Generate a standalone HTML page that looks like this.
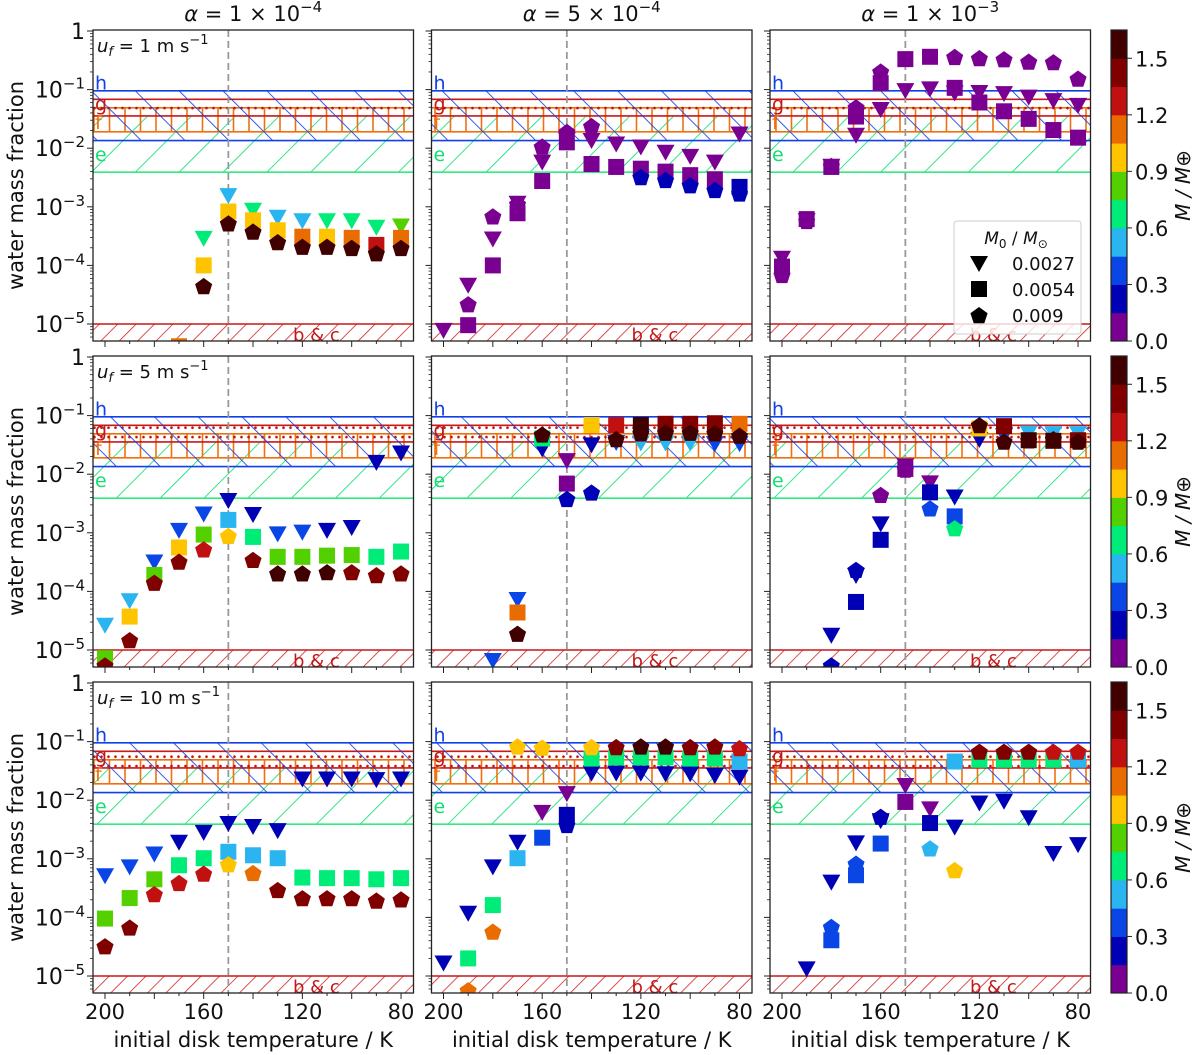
<!DOCTYPE html>
<html><head><meta charset="utf-8">
<style>
html,body{margin:0;padding:0;background:#fff;}
svg{display:block;font-family:"DejaVu Sans","Liberation Sans",sans-serif;}
</style></head>
<body>
<svg id="fig" width="1200" height="1055" viewBox="0 0 1200 1055" xmlns="http://www.w3.org/2000/svg">
<defs>
 <pattern id="hatchBlue" width="31" height="31" patternUnits="userSpaceOnUse" patternTransform="rotate(-45)"><line x1="0" y1="0" x2="0" y2="31" stroke="#1040e8" stroke-width="1.7"/></pattern>
 <pattern id="hatchGreen" width="31" height="31" patternUnits="userSpaceOnUse" patternTransform="rotate(45)"><line x1="0" y1="0" x2="0" y2="31" stroke="#10e070" stroke-width="1.7"/></pattern>
 <pattern id="hatchRed" width="13" height="13" patternUnits="userSpaceOnUse" patternTransform="rotate(45)"><line x1="0" y1="0" x2="0" y2="13" stroke="#d01818" stroke-width="1.5"/></pattern>
 <pattern id="hatchOrange" width="15.5" height="100" patternUnits="userSpaceOnUse"><line x1="1" y1="0" x2="1" y2="100" stroke="#f07010" stroke-width="1.6"/></pattern>
 <pattern id="dotsRed" width="7" height="9.4" patternUnits="userSpaceOnUse"><circle cx="3.5" cy="4.7" r="1.3" fill="#c01010"/></pattern>
</defs>
<g id="root"></g>
</svg>
<script>
// ---- data ----
const temps = [200,190,180,170,160,150,140,130,120,110,100,90,80];
const colTitles = ["1","5","1"]; const colExps = ["−4","−4","−3"];
const rowSpeeds = ["1","5","10"];
const yTickExps = [0,-1,-2,-3,-4,-5];
const xTickLabels = [200,160,120,80];
const cbTicks = [0.0,0.3,0.6,0.9,1.2,1.5];
const cbColors = ["#7a0092","#0000b4","#0a46e6","#2ab4f0","#00ec78","#52d000","#ffc400","#e86c00","#c01010","#800000","#400000"];
const legendVals = ["0.0027","0.0054","0.009"];
const n = null;
const tri00=[n,n,n,-5.45,-3.53,-2.80,-3.05,-3.17,-3.23,-3.23,-3.23,-3.34,-3.32];
const triM00=[n,n,n,.65,.65,.5,.65,.5,.5,.65,.65,.65,.8];
const sq00=[n,n,n,-5.38,-4.0,-3.08,-3.23,-3.40,-3.51,-3.51,-3.53,-3.65,-3.53];
const sqM00=[n,n,n,1.1,1.0,1.0,1.0,1.0,1.1,1.0,1.1,1.3,1.1];
const pent00=[n,n,n,n,-4.35,-3.28,-3.42,-3.6,-3.68,-3.68,-3.70,-3.79,-3.70];
const pentM00=[n,n,n,n,1.6,1.6,1.6,1.6,1.6,1.6,1.6,1.6,1.6];

const tri01=[-5.10,-4.33,-3.54,-2.93,-2.23,-1.85,-1.86,-1.92,-1.97,-2.06,-2.13,-2.23,-1.75];
const triM01=[.05,.05,.05,.05,.05,.05,.05,.05,.05,.05,.05,.05,.05];
const sq01=[n,-5.02,-4.00,-3.11,-2.56,-1.90,-2.27,-2.32,-2.35,-2.40,-2.46,-2.53,-2.66];
const sqM01=[n,.05,.05,.05,.05,.05,.05,.05,.05,.05,.05,.05,.2];
const pent01=[n,-4.66,-3.16,-2.95,-1.97,-1.72,-1.62,n,-2.49,-2.54,-2.63,-2.71,-2.77];
const pentM01=[n,.05,.05,.05,.05,.05,.05,n,.2,.2,.2,.2,.2];

const tri02=[-3.87,-3.23,-2.30,-1.77,-1.33,-1.01,-0.98,-1.05,-1.04,-1.06,-1.12,-1.18,-1.26];
const triM02=[.05,.05,.05,.05,.05,.05,.05,.05,.05,.05,.05,.05,.05];
const sq02=[-4.02,-3.21,-2.32,-1.46,-0.89,-0.48,-0.44,-0.97,-1.22,-1.37,-1.50,-1.69,-1.82];
const sqM02=[.05,.05,.05,.05,.05,.05,.05,.05,.05,.05,.05,.05,.05];
const pent02=[-4.16,-3.24,-2.30,-1.30,-0.69,n,n,-0.44,-0.46,-0.48,-0.52,-0.53,-0.81];
const pentM02=[.05,.05,.05,.05,.05,n,n,.05,.05,.05,.05,.05,.05];

const tri10=[-4.57,-4.15,-3.49,-2.95,-2.67,-2.44,-2.68,-3.01,-2.98,-2.95,-2.90,-1.79,-1.63];
const triM10=[.5,.5,.4,.4,.4,.2,.2,.4,.4,.2,.2,.2,.2];
const sq10=[-5.14,-4.43,-3.72,-3.25,-3.03,-2.78,-3.07,-3.41,-3.41,-3.39,-3.38,-3.41,-3.32];
const sqM10=[.8,1.0,.8,1.0,.8,.5,.65,.8,.8,.8,.8,.65,.65];
const pent10=[-5.26,-4.83,-3.85,-3.49,-3.28,-3.05,-3.46,-3.69,-3.69,-3.67,-3.67,-3.72,-3.69];
const pentM10=[1.4,1.4,1.4,1.4,1.3,1.0,1.4,1.6,1.6,1.6,1.4,1.4,1.4];

const tri11=[n,n,-5.17,-4.13,-1.56,-1.76,-1.49,-1.45,-1.46,-1.46,-1.46,-1.47,-1.47];
const triM11=[n,n,.4,.4,.2,.05,.2,.4,.5,.5,.5,.4,.4];
const sq11=[n,n,n,-4.36,-1.39,-2.16,-1.16,-1.16,-1.16,-1.14,-1.14,-1.13,-1.14];
const sqM11=[n,n,n,1.1,.65,.05,1.0,1.3,1.6,1.4,1.4,1.4,1.1];
const pent11=[n,n,n,-4.72,-1.32,-2.42,-2.31,-1.40,-1.30,-1.29,-1.29,-1.30,-1.34];
const pentM11=[n,n,n,1.6,1.6,.2,.2,1.6,1.6,1.6,1.6,1.6,1.6];

const tri12=[n,n,-4.74,-3.72,-2.84,-1.85,-2.14,-2.38,-1.40,-1.33,-1.29,-1.30,-1.30];
const triM12=[n,n,.2,.2,.2,.05,.05,.2,.2,.4,.5,.5,.5];
const sq12=[n,n,n,-4.18,-3.12,-1.91,-2.31,-2.72,-1.22,-1.18,-1.42,-1.43,-1.42];
const sqM12=[n,n,n,.2,.2,.05,.2,.4,1.0,1.4,1.6,1.6,1.4];
const pent12=[n,n,-5.26,-3.63,-2.35,-1.92,-2.58,-2.92,-1.16,-1.44,-1.42,-1.40,-1.44];
const pentM12=[n,n,.2,.2,.05,.05,.4,.65,1.6,1.6,1.6,1.6,1.6];

const tri20=[-3.28,-3.13,-2.91,-2.71,-2.54,-2.39,-2.44,-2.51,-1.63,-1.63,-1.63,-1.64,-1.63];
const triM20=[.4,.4,.4,.2,.2,.2,.2,.2,.2,.2,.2,.2,.2];
const sq20=[-4.02,-3.67,-3.35,-3.11,-2.99,-2.88,-2.94,-2.99,-3.32,-3.33,-3.33,-3.35,-3.33];
const sqM20=[.8,.8,.8,.65,.65,.5,.5,.5,.65,.65,.65,.65,.65];
const pent20=[-4.49,-4.17,-3.60,-3.41,-3.25,-3.09,-3.24,-3.53,-3.67,-3.67,-3.67,-3.71,-3.69];
const pentM20=[1.4,1.4,1.3,1.3,1.3,1.0,1.1,1.4,1.4,1.4,1.4,1.4,1.4];

const tri21=[-4.77,-3.92,-3.13,-2.71,-2.20,-1.88,-1.53,-1.53,-1.53,-1.54,-1.54,-1.57,-1.60];
const triM21=[.2,.2,.2,.2,.05,.05,.2,.2,.2,.2,.2,.2,.2];
const sq21=[n,-4.70,-3.79,-2.99,-2.64,-2.25,-1.29,-1.27,-1.27,-1.27,-1.29,-1.29,-1.34];
const sqM21=[n,.65,.65,.5,.4,.2,.65,.65,.65,.65,.65,.65,.5];
const pent21=[n,-5.24,-4.24,-1.08,-1.10,-2.42,-1.09,-1.09,-1.08,-1.08,-1.09,-1.08,-1.11];
const pentM21=[n,1.1,1.1,1.0,1.0,.2,1.0,1.4,1.6,1.6,1.4,1.4,1.3];

const tri22=[n,-4.87,-3.39,-2.72,-2.34,-1.74,-2.14,-2.45,-2.04,-2.01,-2.29,-2.90,-2.75];
const triM22=[n,.2,.2,.2,.2,.05,.05,.2,.2,.2,.2,.2,.2];
const sq22=[n,n,-4.39,-3.28,-2.74,-2.03,-2.39,-1.34,-1.31,-1.31,-1.31,-1.31,-1.31];
const sqM22=[n,n,.4,.4,.4,.05,.2,.5,.65,.65,.65,.65,.5];
const pent22=[n,n,-4.16,-3.08,-2.28,n,-2.82,-3.19,-1.17,-1.17,-1.17,-1.17,-1.17];
const pentM22=[n,n,.4,.4,.2,n,.5,1.0,1.4,1.4,1.4,1.3,1.3];

const bandH=[-1.87,-1.02], bandG=[-1.45,-1.166], bandF=[-1.72,-1.31], bandE=[-2.41,-1.45], bandBC=[-6,-5];

const panels=[
 [[tri00,triM00,sq00,sqM00,pent00,pentM00],[tri01,triM01,sq01,sqM01,pent01,pentM01],[tri02,triM02,sq02,sqM02,pent02,pentM02]],
 [[tri10,triM10,sq10,sqM10,pent10,pentM10],[tri11,triM11,sq11,sqM11,pent11,pentM11],[tri12,triM12,sq12,sqM12,pent12,pentM12]],
 [[tri20,triM20,sq20,sqM20,pent20,pentM20],[tri21,triM21,sq21,sqM21,pent21,pentM21],[tri22,triM22,sq22,sqM22,pent22,pentM22]]];

const NS="http://www.w3.org/2000/svg";
const root=document.getElementById('root');
const lefts=[93,431.5,770], PW=320.5, PH=311, CBMAX=1.65;
function mk(tag,attrs,parent){const e=document.createElementNS(NS,tag);for(const k in attrs)e.setAttribute(k,attrs[k]);(parent||root).appendChild(e);return e;}
function colorFor(m){let i=Math.floor(m/0.15);if(i<0)i=0;if(i>10)i=10;return cbColors[i];}

for(let r=0;r<3;r++){
 const top=30+326*r;
 const yS=v=>top+1+(-v)*58.6;
 for(let c=0;c<3;c++){
  const L=lefts[c];
  const xS=t=>L+12+(200-t)*2.467;
  const g=mk('g',{});
  
  
  const cid='clip'+r+c;
  const cp=mk('clipPath',{id:cid},g); mk('rect',{x:L,y:top,width:PW,height:PH},cp);
  const inner=mk('g',{'clip-path':'url(#'+cid+')'},g);
  function band(b,fill,name){const y1=yS(b[1]),y0=Math.min(yS(b[0]),top+PH+5);const e=mk('rect',{x:L,y:y1,width:PW,height:y0-y1,fill:fill},inner);return e;}
  function hl(v,col,w){mk('line',{x1:L,x2:L+PW,y1:yS(v),y2:yS(v),stroke:col,'stroke-width':w||1.6},inner);}
  band(bandE,'url(#hatchGreen)','band-e');
  hl(bandE[0],'#30ec80');
  band(bandF,'url(#hatchOrange)','band-f');
  hl(bandF[0],'#f07010');hl(bandF[1],'#f07010');
  band(bandG,'url(#dotsRed)','band-g');
  hl(bandG[0],'#c81818');hl(bandG[1],'#c81818');
  band(bandH,'url(#hatchBlue)','band-h');
  hl(bandH[0],'#1040e8');hl(bandH[1],'#1040e8');
  band(bandBC,'url(#hatchRed)','band-b-c');
  hl(bandBC[1],'#c81818');
  const lbl=[['h',-1.0,'#1040e8'],['g',-1.36,'#c01818'],['f',-1.67,'#f07010'],['e',-2.22,'#10e070']];
  lbl.forEach(a=>{const t=mk('text',{x:L+2,y:yS(a[1]),fill:a[2],'font-size':19},g);t.textContent=a[0];});
  const bc=mk('text',{x:L+200,y:yS(-5)+17,fill:'#c01818','font-size':18},g);bc.textContent='b & c';
  
  const dl=mk('line',{x1:xS(150),x2:xS(150),y1:top,y2:top+PH,stroke:'#999','stroke-width':1.8,'stroke-dasharray':'7,4'},inner);
  
  const D=panels[r][c];
  function drawSeries(vals,ms,kind){
   vals.forEach((v,i)=>{ if(v===null)return; const x=xS(temps[i]),y=yS(v),col=colorFor(ms[i]); let e;
    if(kind==='tri'){e=mk('polygon',{points:[[x-9,y-7],[x+9,y-7],[x,y+9]].map(p=>p.join(',')).join(' '),fill:col},inner);}
    else if(kind==='sq'){e=mk('rect',{x:x-8,y:y-8,width:16,height:16,fill:col},inner);}
    else{const pts=[];for(let k=0;k<5;k++){const a=-Math.PI/2+k*2*Math.PI/5;pts.push((x+9*Math.cos(a)).toFixed(1)+','+(y+1+9*Math.sin(a)).toFixed(1));}e=mk('polygon',{points:pts.join(' '),fill:col},inner);}
    
    
   });
  }
  drawSeries(D[0],D[1],'tri');drawSeries(D[2],D[3],'sq');drawSeries(D[4],D[5],'pent');
  const fr=mk('rect',{x:L,y:top,width:PW,height:PH,fill:'none',stroke:'#222','stroke-width':1.3},g);
  
  for(let d=0;d>=-5;d--){ mk('line',{x1:L-6,x2:L,y1:yS(d),y2:yS(d),stroke:'#222','stroke-width':1},g);
    for(let k=2;k<10;k++){const v=d-1+Math.log10(k); if(yS(v)>top+PH)continue; mk('line',{x1:L-3,x2:L,y1:yS(v),y2:yS(v),stroke:'#222','stroke-width':0.8},g);} }
  if(c===0){
   yTickExps.forEach(e=>{const t=mk('text',{x:L-8,y:yS(e)+8,'font-size':22,'text-anchor':'end',fill:'#111'},g);
     
     if(e===0){t.textContent='1';}else{const a=mk('tspan',{},t);a.textContent='10';const b=mk('tspan',{dy:-9,'font-size':15},t);b.textContent='−'+(-e);} });
   const yl=mk('text',{x:0,y:0,'font-size':21,'text-anchor':'middle',fill:'#111',transform:'translate(23,'+(top+PH/2)+') rotate(-90)'},g);
   yl.textContent='water mass fraction';
   const u=mk('text',{x:L+4,y:top+22,'font-size':18,fill:'#111'},g);
   
   const u1=mk('tspan',{'font-style':'italic'},u);u1.textContent='u';
   const u2=mk('tspan',{'font-style':'italic','font-size':13,dy:4},u);u2.textContent='f';
   const u3=mk('tspan',{dy:-4},u);u3.textContent=' = '+rowSpeeds[r]+' m s';
   const u4=mk('tspan',{dy:-8,'font-size':13},u);u4.textContent='−1';
  }
  for(let t=200;t>=80;t-=10){const big=(t%20===0);mk('line',{x1:xS(t),x2:xS(t),y1:top+PH,y2:top+PH+(big?6:3),stroke:'#222','stroke-width':1},g);}
  if(r===2){
   xTickLabels.forEach(t=>{const e=mk('text',{x:xS(t),y:top+PH+26,'font-size':21,'text-anchor':'middle',fill:'#111'},g);e.textContent=t;});
   const xl=mk('text',{x:L+PW/2,y:top+PH+54,'font-size':21,'text-anchor':'middle',fill:'#111'},g);xl.textContent='initial disk temperature / K';
   
  }
  if(r===0){
   const tt=mk('text',{x:L+PW/2,y:21,'font-size':21,'text-anchor':'middle',fill:'#111'},g);
   
   const a=mk('tspan',{'font-style':'italic'},tt);a.textContent='α';
   const b=mk('tspan',{},tt);b.textContent=' = '+colTitles[c]+' × 10';
   const e2=mk('tspan',{dy:-9,'font-size':15},tt);e2.textContent=colExps[c];
  }
 }
 const cb=mk('g',{});
 const cbx=1111,cbw=16,cbBot=top+PH;
 const cyS=v=>cbBot-v/CBMAX*PH;
 cbColors.forEach((col,i)=>{mk('rect',{x:cbx,y:cyS((i+1)*0.15),width:cbw,height:cyS(i*0.15)-cyS((i+1)*0.15)+0.5,fill:col},cb);});
 mk('rect',{x:cbx,y:top,width:cbw,height:PH,fill:'none',stroke:'#222','stroke-width':1.2},cb);
 cbTicks.forEach(v=>{mk('line',{x1:cbx+cbw,x2:cbx+cbw+5,y1:cyS(v),y2:cyS(v),stroke:'#222'},cb);
   const t=mk('text',{x:cbx+cbw+8,y:cyS(v)+8,'font-size':21,fill:'#111'},cb);t.textContent=v.toFixed(1);});
 const cl=mk('text',{x:0,y:0,'font-size':20,'text-anchor':'middle','font-style':'italic',fill:'#111',transform:'translate(1190,'+(top+PH/2)+') rotate(-90)'},cb);
 cl.textContent='M / M⊕';
}
const lg=mk('g',{});
mk('rect',{x:954,y:221,width:127,height:113,rx:3,fill:'#fff','fill-opacity':0.8,stroke:'#ccc'},lg);
const lt=mk('text',{x:1016,y:244,'font-size':17,'text-anchor':'middle',fill:'#111'},lg);
const lt1=mk('tspan',{'font-style':'italic'},lt);lt1.textContent='M';
const lt2=mk('tspan',{'font-size':12,dy:4},lt);lt2.textContent='0';
const lt3=mk('tspan',{dy:-4},lt);lt3.textContent=' / ';
const lt4=mk('tspan',{'font-style':'italic'},lt);lt4.textContent='M';
const lt5=mk('tspan',{'font-size':12,dy:4},lt);lt5.textContent='⊙';
legendVals.forEach((v,i)=>{const y=263+i*26;let e;
 if(i===0)e=mk('polygon',{points:(979-9)+','+(y-7)+' '+(979+9)+','+(y-7)+' 979,'+(y+9),fill:'#000'},lg);
 else if(i===1)e=mk('rect',{x:971,y:y-8,width:16,height:16,fill:'#000'},lg);
 else{const pts=[];for(let k=0;k<5;k++){const a=-Math.PI/2+k*2*Math.PI/5;pts.push((979+9*Math.cos(a)).toFixed(1)+','+(y+1+9*Math.sin(a)).toFixed(1));}e=mk('polygon',{points:pts.join(' '),fill:'#000'},lg);}
 
 const t=mk('text',{x:1012,y:y+7,'font-size':18,fill:'#111'},lg);t.textContent=v;
 
});
</script>
</body></html>
